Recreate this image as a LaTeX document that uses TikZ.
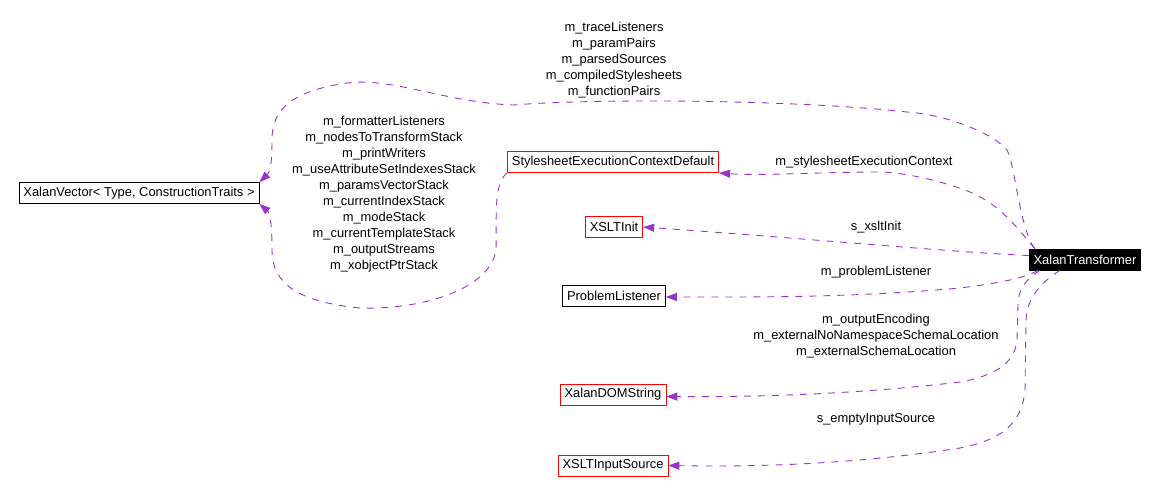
\documentclass[tikz,border=0pt]{standalone}
\usepackage{fontspec}
\setmainfont{Liberation Sans}
\usetikzlibrary{arrows.meta}
\definecolor{edgec}{HTML}{9A32CD}
\begin{document}
\begin{tikzpicture}[x=1pt,y=-1pt,
  every node/.style={font=\fontsize{12.9}{16}\selectfont},
  cls/.style={draw=black,fill=white,line width=0.8pt,inner xsep=4.5pt,inner ysep=0pt,minimum height=21pt},
  redcls/.style={cls,draw=red},
  main/.style={cls,fill=black,text=white,draw=black},
  lbl/.style={align=center,inner sep=0pt},
  use/.style={draw=edgec,line width=0.9pt,dash pattern=on 7pt off 7pt,-{Triangle[length=11pt,width=8pt]},color=edgec}
]
\useasboundingbox (0,0) rectangle (1156,495);
% nodes
\node[cls] (xv) at (139,193) {XalanVector< Type, ConstructionTraits >};
\node[redcls] (ss) at (613,162) {StylesheetExecutionContextDefault};
\node[redcls] (xi) at (614,227) {XSLTInit};
\node[cls] (pl) at (614,295.5) {ProblemListener};
\node[redcls] (ds) at (613,394.5) {XalanDOMString};
\node[redcls] (xis) at (613,465.5) {XSLTInputSource};
\node[main] (xt) at (1085,259.5) {XalanTransformer};
% labels
\node[lbl] (l1) at (614,60) {m\_traceListeners\\m\_paramPairs\\m\_parsedSources\\m\_compiledStylesheets\\m\_functionPairs};
\node[lbl] (l2) at (384,194) {m\_formatterListeners\\m\_nodesToTransformStack\\m\_printWriters\\m\_useAttributeSetIndexesStack\\m\_paramsVectorStack\\m\_currentIndexStack\\m\_modeStack\\m\_currentTemplateStack\\m\_outputStreams\\m\_xobjectPtrStack};
\node[lbl] (l3) at (864,162) {m\_stylesheetExecutionContext};
\node[lbl] (l4) at (876,227) {s\_xsltInit};
\node[lbl] (l5) at (876,272) {m\_problemListener};
\node[lbl] (l6) at (876,336) {m\_outputEncoding\\m\_externalNoNamespaceSchemaLocation\\m\_externalSchemaLocation};
\node[lbl] (l7) at (876,419) {s\_emptyInputSource};
% edges
\draw[use] ([xshift=6pt]xt.north west) .. controls (1020,230) and (1015,165) .. (1007,150)
  .. controls (995,135) and (950,115) .. (907,112)
  .. controls (800,100) and (600,98) .. (513,105)
  .. controls (440,102) and (390,75) .. (340,84)
  .. controls (290,93) and (272,110) .. (272,140)
  .. controls (272,165) and (270,172) .. (xv.north east);
\draw[use] (ss.south west) .. controls (493,185) and (497,215) .. (496,250)
  .. controls (490,290) and (420,310) .. (360,308)
  .. controls (300,302) and (272,285) .. (272,250)
  .. controls (272,225) and (270,213) .. (xv.south east);
\draw[use] ([xshift=6pt]xt.north west) .. controls (1015,225) and (1000,205) .. (970,192)
  .. controls (940,180) and (900,172) .. (880,172)
  .. controls (820,172) and (760,176) .. (ss.south east);
\draw[use] ([yshift=4pt]xt.west) .. controls (950,252) and (800,238) .. (xi.east);
\draw[use] ([xshift=9pt]xt.south west) .. controls (1025,278) and (1000,283) .. (960,288)
  .. controls (850,298) and (750,297) .. ([yshift=-1.5pt]pl.east);
\draw[use] ([xshift=11pt]xt.south west) .. controls (1025,280) and (1018,290) .. (1018,305)
  -- (1017,340) .. controls (1015,360) and (1000,375) .. (960,382)
  .. controls (850,395) and (750,397) .. ([yshift=-2pt]ds.east);
\draw[use] ([xshift=31pt]xt.south west) .. controls (1045,280) and (1027,295) .. (1026,320)
  -- (1025,390) .. controls (1022,425) and (1000,440) .. (960,448)
  .. controls (850,465) and (750,467) .. (xis.east);
\end{tikzpicture}
\end{document}
